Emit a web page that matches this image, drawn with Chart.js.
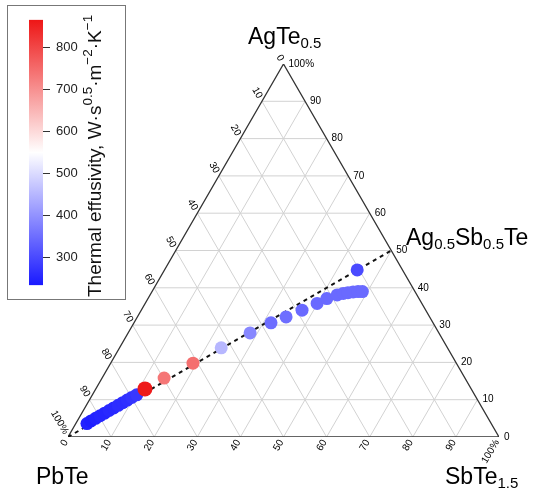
<!DOCTYPE html>
<html>
<head>
<meta charset="utf-8">
<script src="https://cdn.jsdelivr.net/npm/chart.js@4"></script>
<style>
  html, body { margin: 0; padding: 0; background: #fff; }
  #wrap { position: relative; width: 547px; height: 490px; }
  #main { position: absolute; left: 0; top: 0; }
  #cbox { position: absolute; left: 7px; top: 5px; width: 119px; height: 295px;
          border: 1px solid #777; box-sizing: border-box; background: #fff; }
</style>
</head>
<body>
<div id="wrap">
  <canvas id="main" width="547" height="490"></canvas>
  <div id="cbox"><canvas id="cbar" width="117" height="293"></canvas></div>
</div>
<script>
// compositions in %, AgTe0.5 (top) / SbTe1.5 (right), PbTe is the rest
const agTe = [3.6, 4.3, 5.0, 5.7, 6.4, 7.1, 7.8, 8.5, 9.2, 9.9, 10.6, 11.3,
              12.9, 15.8, 19.8, 23.9, 27.9, 30.6, 32.2, 34.0, 35.8, 37.1, 38.1,
              38.5, 38.7, 38.9, 39.0, 39.0, 44.8];
const sbTe = [2.6, 3.2, 3.9, 4.6, 5.3, 6.0, 6.7, 7.4, 8.1, 8.8, 9.5, 10.3,
              11.4, 14.4, 19.1, 23.6, 28.3, 31.8, 34.5, 37.3, 39.9, 41.5, 43.4,
              44.6, 45.6, 46.7, 47.8, 48.8, 44.7];
// thermal effusivity W s^0.5 m^-2 K^-1
const effusivity = [245, 240, 245, 250, 250, 255, 255, 260, 260, 265, 270, 275,
                    860, 735, 745, 450, 385, 350, 350, 345, 345, 345, 345,
                    345, 345, 345, 345, 345, 300];

// tie line PbTe -> Ag0.5Sb0.5Te
const tieAg = [0, 50];
const tieSb = [0, 50];

const gridSteps = [10, 20, 30, 40, 50, 60, 70, 80, 90];
const tickValues = [0, 10, 20, 30, 40, 50, 60, 70, 80, 90, 100];
const cbTicks = [300, 400, 500, 600, 700, 800];
const effRange = [233, 866];

const FONT = "'Liberation Sans', Arial, Helvetica, sans-serif";
const H = Math.sqrt(3) / 2;

// ternary -> cartesian (PbTe at origin, SbTe at x=1, AgTe at top)
function toXY(ag, sb) {
    return { x: (sb + ag / 2) / 100, y: ag / 100 * H };
}

// blue - white - red
function effColor(v) {
    let t = (v - effRange[0]) / (effRange[1] - effRange[0]);
    t = Math.min(1, Math.max(0, t));
    const lo = [25, 25, 255], mid = [255, 255, 255], hi = [238, 22, 22];
    let a, b, f;
    if (t < 0.5) { a = lo; b = mid; f = t / 0.5; }
    else { a = mid; b = hi; f = (t - 0.5) / 0.5; }
    const c = a.map((k, i) => Math.round(k + (b[i] - k) * f));
    return 'rgb(' + c.join(',') + ')';
}

// grid lines, one dataset with gaps
const gridPts = [];
gridSteps.forEach(v => {
    gridPts.push(toXY(v, 0), toXY(v, 100 - v), { x: null, y: null });   // AgTe const
    gridPts.push(toXY(0, v), toXY(100 - v, v), { x: null, y: null });   // SbTe const
    gridPts.push(toXY(0, 100 - v), toXY(100 - v, 0), { x: null, y: null }); // PbTe const
});

const frame = [toXY(0, 0), toXY(0, 100), toXY(100, 0), toXY(0, 0)];

function drawParts(ctx, parts, x, y, size, subSize, shift) {
    parts.forEach(p => {
        const s = p[1] ? subSize : size;
        ctx.font = s + 'px ' + FONT;
        ctx.fillText(p[0], x, y + (p[1] ? shift : 0));
        x += ctx.measureText(p[0]).width;
    });
}

const ternaryText = {
    id: 'ternaryText',
    afterDatasetsDraw(chart) {
        const { ctx, scales } = chart;
        const px = p => [scales.x.getPixelForValue(p.x), scales.y.getPixelForValue(p.y)];
        ctx.save();
        ctx.fillStyle = '#000';
        ctx.font = '10px ' + FONT;
        ctx.textBaseline = 'middle';
        tickValues.forEach(v => {
            const label = v === 100 ? '100%' : String(v);
            // right edge: AgTe
            let [ex, ey] = px(toXY(v, 100 - v));
            ctx.textAlign = 'left';
            ctx.fillText(label, ex + 5, ey);
            // left edge: PbTe
            [ex, ey] = px(toXY(100 - v, 0));
            ctx.save();
            ctx.translate(ex - 2, ey - 3.5);
            ctx.rotate(Math.PI / 3);
            ctx.textAlign = 'right';
            ctx.fillText(label, 0, 0);
            ctx.restore();
            // bottom edge: SbTe
            [ex, ey] = px(toXY(0, v));
            ctx.save();
            ctx.translate(ex - 2, ey + 3.5);
            ctx.rotate(-Math.PI / 3);
            ctx.textAlign = 'right';
            ctx.fillText(label, 0, 0);
            ctx.restore();
        });

        // corner labels
        ctx.textAlign = 'left';
        ctx.textBaseline = 'alphabetic';
        drawParts(ctx, [['AgTe', 0], ['0.5', 1]], 248, 44, 23, 15, 4);
        drawParts(ctx, [['Ag', 0], ['0.5', 1], ['Sb', 0], ['0.5', 1], ['Te', 0]], 406, 245, 23, 15, 4);
        drawParts(ctx, [['PbTe', 0]], 36, 484, 23, 15, 4);
        drawParts(ctx, [['SbTe', 0], ['1.5', 1]], 445, 484, 23, 15, 4);
        ctx.restore();
    }
};

new Chart(document.getElementById('main'), {
    type: 'scatter',
    data: {
        datasets: [{
            data: agTe.map((a, i) => toXY(a, sbTe[i])),
            backgroundColor: effusivity.map(v => effColor(v)),
            pointRadius: effusivity.map(v => v > 800 ? 7.5 : 6.5),
            borderWidth: 0,
            order: 0
        }, {
            data: tieAg.map((a, i) => toXY(a, tieSb[i])),
            showLine: true,
            borderColor: '#111',
            borderWidth: 2,
            borderDash: [4, 4],
            pointRadius: 0,
            order: 1
        }, {
            data: frame,
            showLine: true,
            borderColor: '#333',
            borderWidth: 1.3,
            pointRadius: 0,
            order: 2
        }, {
            data: gridPts,
            showLine: true,
            spanGaps: false,
            borderColor: '#d2d2d2',
            borderWidth: 1,
            pointRadius: 0,
            order: 3
        }]
    },
    options: {
        responsive: false,
        animation: false,
        layout: { padding: { left: 68, right: 48, top: 64, bottom: 53 } },
        plugins: { legend: { display: false }, tooltip: { enabled: false } },
        scales: {
            x: { display: false, min: 0, max: 1 },
            y: { display: false, min: 0, max: H }
        }
    },
    plugins: [ternaryText]
});

// colour bar
const cbTitle = {
    id: 'cbTitle',
    afterDraw(chart) {
        const ctx = chart.ctx;
        ctx.save();
        ctx.translate(93, 291);
        ctx.rotate(-Math.PI / 2);
        ctx.fillStyle = '#111';
        ctx.textAlign = 'left';
        ctx.textBaseline = 'alphabetic';
        drawParts(ctx, [['Thermal effusivity, W\u00b7s', 0], ['0.5', 1], ['\u00b7m', 0],
                        ['\u22122', 1], ['\u00b7K', 0], ['\u22121', 1]], 0, 0, 19, 13.5, -9);
        ctx.restore();
    }
};

new Chart(document.getElementById('cbar'), {
    type: 'bar',
    data: {
        labels: [''],
        datasets: [{
            data: [effRange],
            backgroundColor: function(context) {
                const area = context.chart.chartArea;
                if (!area) return effColor(effRange[0]);
                const g = context.chart.ctx.createLinearGradient(0, area.bottom, 0, area.top);
                for (let i = 0; i <= 10; i++) {
                    g.addColorStop(i / 10, effColor(effRange[0] + (effRange[1] - effRange[0]) * i / 10));
                }
                return g;
            },
            barPercentage: 1,
            categoryPercentage: 1,
            borderWidth: 0
        }]
    },
    options: {
        responsive: false,
        animation: false,
        layout: { padding: { left: 21, right: 0, top: 13, bottom: 13 } },
        plugins: { legend: { display: false }, tooltip: { enabled: false } },
        scales: {
            x: { display: false },
            y: {
                position: 'right',
                min: effRange[0],
                max: effRange[1],
                afterBuildTicks: s => { s.ticks = cbTicks.map(v => ({ value: v })); },
                afterFit: s => { s.width = 82; },
                grid: { drawOnChartArea: false, drawTicks: true, tickLength: 7, color: '#333' },
                border: { display: false },
                ticks: { font: { family: FONT, size: 13 }, color: '#222', padding: 6 }
            }
        }
    },
    plugins: [cbTitle]
});
</script>
</body>
</html>
